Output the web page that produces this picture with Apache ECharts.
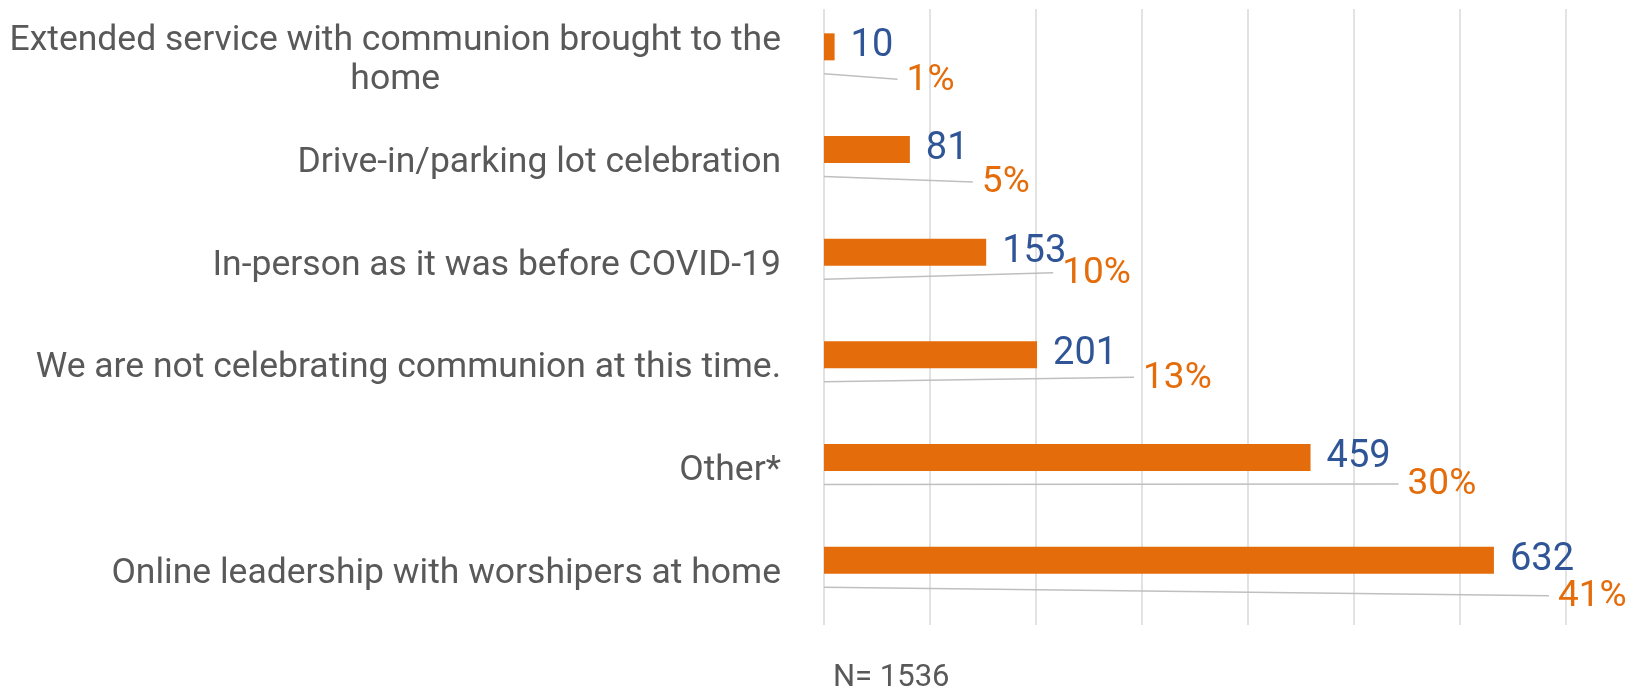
<!DOCTYPE html>
<html>
<head>
<meta charset="utf-8">
<script src="https://cdn.jsdelivr.net/npm/echarts@6/dist/echarts.min.js"></script>
<style>
  html, body { margin: 0; padding: 0; background: #fff; }
  #communion-echart { width: 1638px; height: 694px; }
</style>
</head>
<body>
<div id="communion-echart"></div>
<script>
// data
var categories = [
  'Extended service with communion brought to the home',
  'Drive-in/parking lot celebration',
  'In-person as it was before COVID-19',
  'We are not celebrating communion at this time.',
  'Other*',
  'Online leadership with worshipers at home'
];
var counts = [10, 81, 153, 201, 459, 632];
var shares = [1, 5, 10, 13, 30, 41];
var respondents = 1536;
var axisTicks = [0, 100, 200, 300, 400, 500, 600, 700];

// where the percent labels were dragged to (px from the bar end / band centre)
var pctNudgeX = [63, 63, 67, 97, 88, 55];
var pctNudgeY = [19, 19, 7, 9, 13, 22];

var ORANGE = '#E46C0A';
var BLUE = '#2F5597';
var GREY = '#595959';
var FONT = 'Roboto, "Liberation Sans", sans-serif';

var echart = echarts.init(document.getElementById('communion-echart'));

var option = {
  backgroundColor: '#fff',
  animation: false,
  grid: {
    left: 824,
    right: 72,
    top: 9,
    bottom: 69
  },
  xAxis: [
    {
      type: 'value',
      min: axisTicks[0],
      max: axisTicks[axisTicks.length - 1],
      interval: axisTicks[1] - axisTicks[0],
      axisLabel: { show: false },
      axisLine: { show: false },
      axisTick: { show: false },
      splitLine: {
        show: true,
        lineStyle: { color: '#D9D9D9', width: 1.5 }
      }
    },
    {
      type: 'value',
      min: 0,
      max: 100,
      show: false
    }
  ],
  yAxis: {
    type: 'category',
    inverse: true,
    data: categories,
    axisLine: { show: false },
    axisTick: { show: false },
    axisLabel: {
      margin: 43,
      color: GREY,
      fontFamily: FONT,
      fontSize: 35.5,
      lineHeight: 39,
      formatter: function (v) {
        // the long one wraps, second line centred like the original
        if (v.indexOf(' the home') > -1) {
          return '{c|' + v.replace(' home', '') + '}\n{c|home}';
        }
        return v;
      },
      rich: {
        c: {
          align: 'center',
          color: GREY,
          fontFamily: FONT,
          fontSize: 35.5,
          lineHeight: 39
        }
      }
    }
  },
  series: [
    {
      type: 'bar',
      name: 'count',
      data: counts,
      barWidth: 27,
      barGap: '0%',
      itemStyle: { color: ORANGE },
      label: {
        show: true,
        position: 'right',
        distance: 16,
        color: BLUE,
        fontFamily: FONT,
        fontSize: 38
      },
      z: 3
    },
    {
      // empty second slot, like the hidden percent series in the original
      type: 'bar',
      name: 'share',
      xAxisIndex: 1,
      data: shares,
      barWidth: 27,
      itemStyle: { color: 'rgba(0,0,0,0)' },
      silent: true
    },
    {
      type: 'custom',
      name: 'share labels',
      data: counts.map(function (c, i) { return [c, i, shares[i]]; }),
      renderItem: function (params, api) {
        var i = api.value(1);
        var start = api.coord([0, i]);
        var barEnd = api.coord([api.value(0), i]);
        var x0 = start[0];
        var y0 = start[1] + 13.5;
        var x1 = barEnd[0] + pctNudgeX[i];
        var y1 = start[1] + pctNudgeY[i];
        return {
          type: 'group',
          children: [
            {
              type: 'line',
              shape: { x1: x0, y1: y0, x2: x1, y2: y1 },
              style: { stroke: '#BFBFBF', lineWidth: 1.5 }
            },
            {
              type: 'text',
              x: x1 + 9,
              y: y1 + 1,
              style: {
                text: api.value(2) + '%',
                fill: ORANGE,
                font: '37px ' + FONT,
                textAlign: 'left',
                textVerticalAlign: 'middle'
              }
            }
          ]
        };
      },
      z: 4
    }
  ],
  graphic: [
    {
      type: 'text',
      left: 833,
      top: 663,
      style: {
        text: 'N= ' + respondents,
        fill: GREY,
        font: '31px ' + FONT
      }
    }
  ]
};

echart.setOption(option);
window.addEventListener('resize', function () {
  echart.resize();
});
</script>
</body>
</html>
